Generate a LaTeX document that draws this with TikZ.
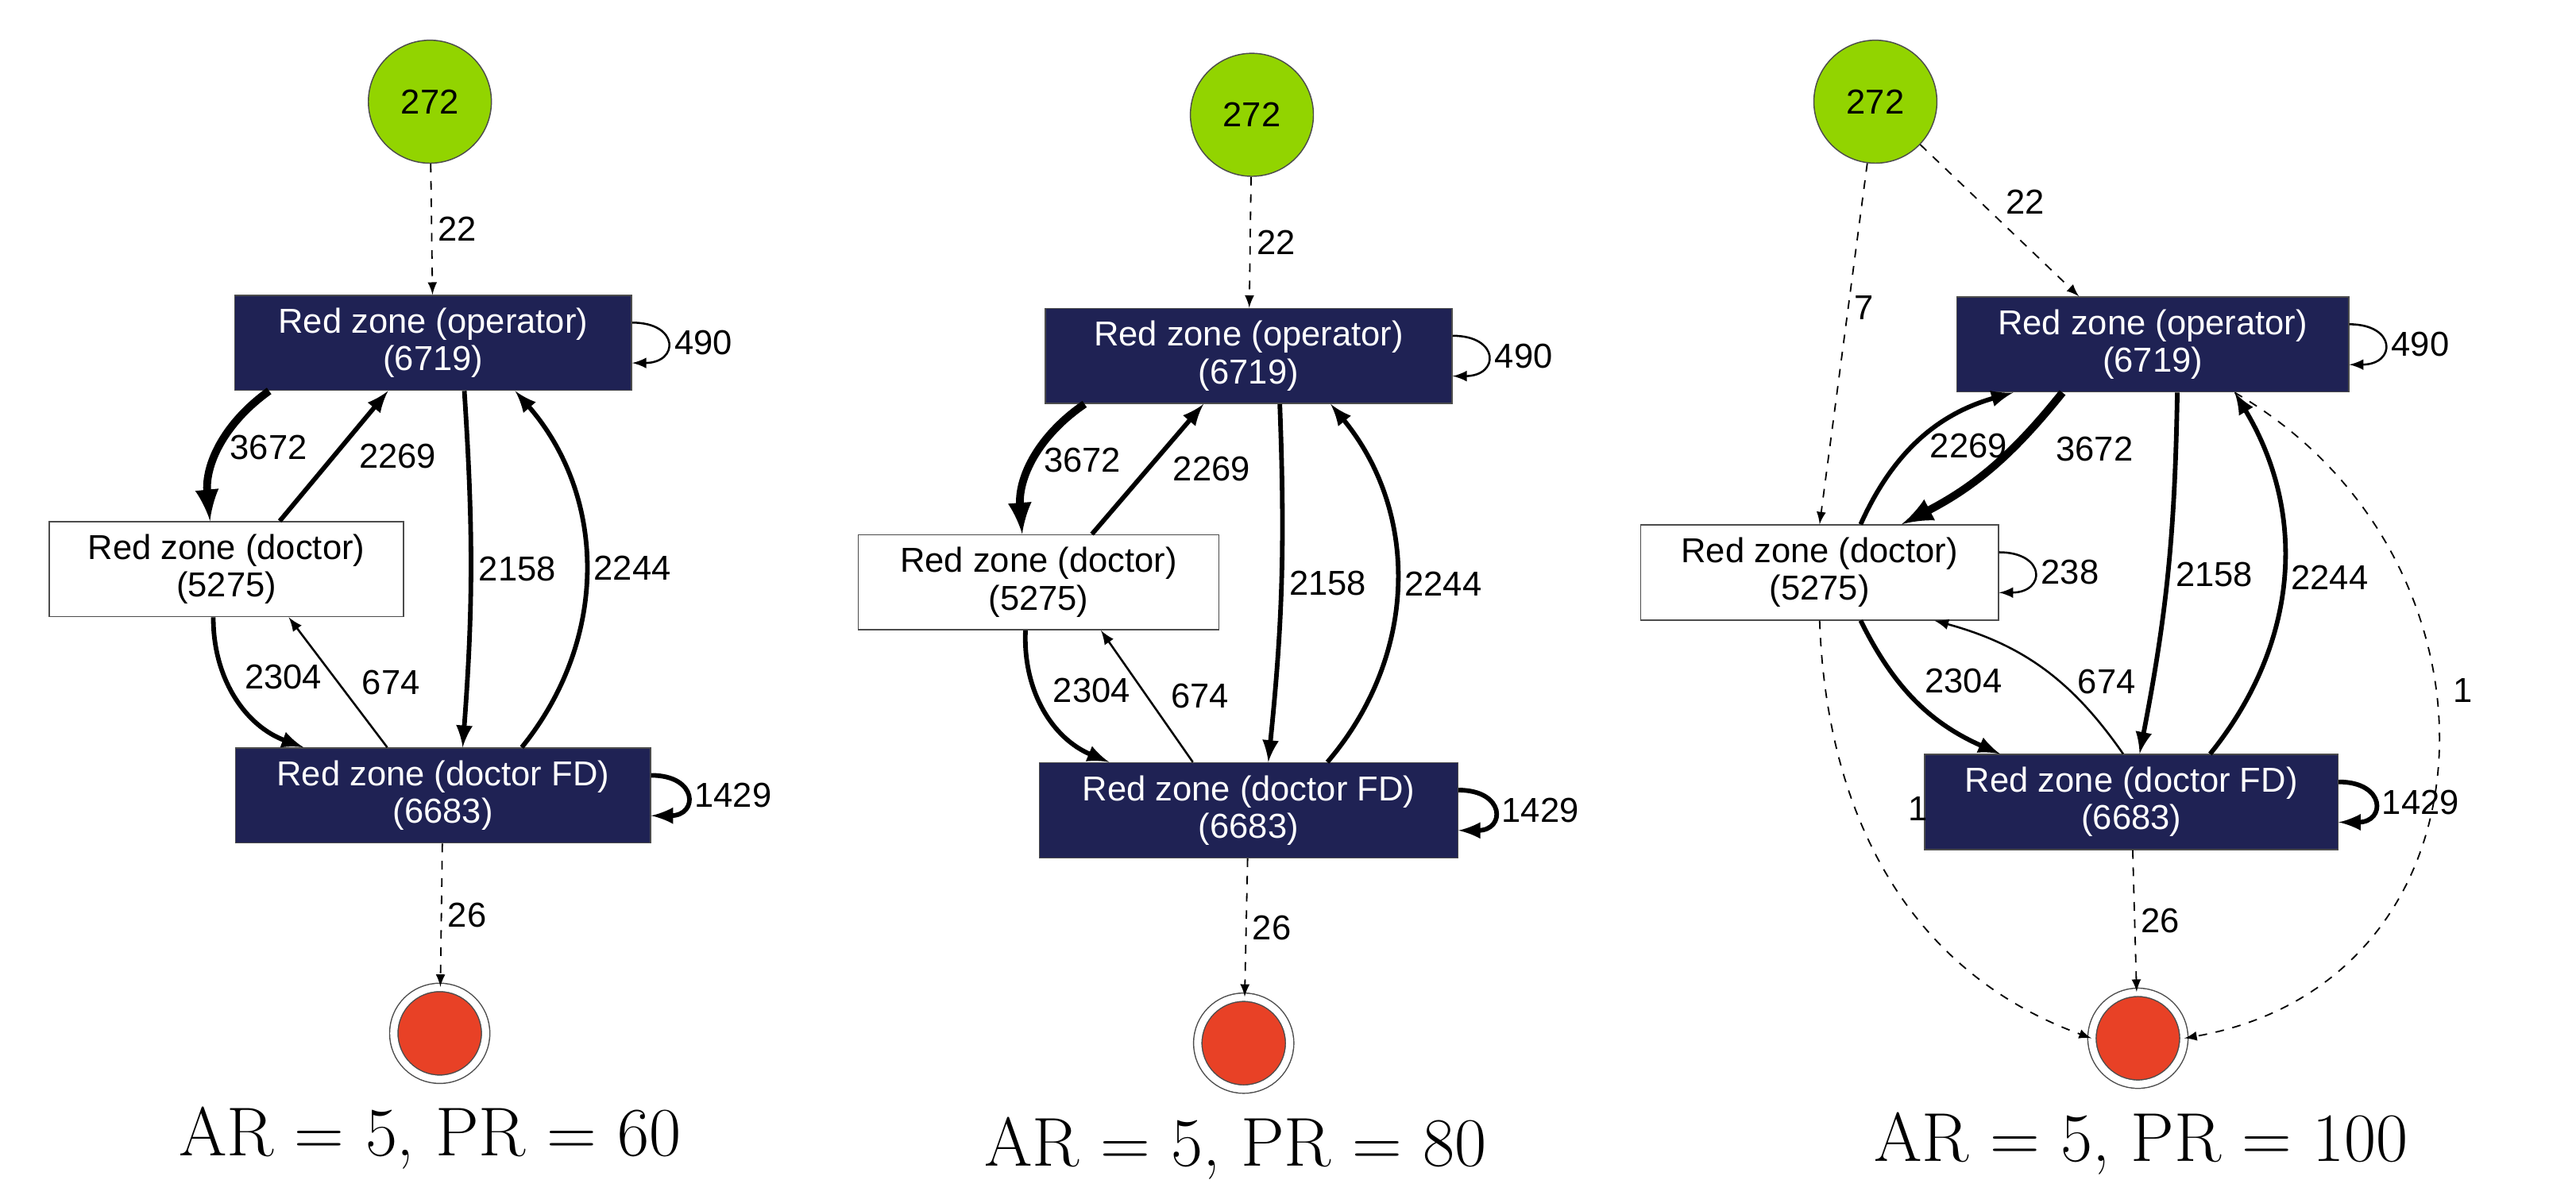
\documentclass[tikz,border=0pt]{standalone}
\usepackage{fontspec}
\newfontfamily\graphfont{Liberation Sans}
\usetikzlibrary{arrows}
\definecolor{zonebg}{RGB}{31,34,84}
\definecolor{startgreen}{RGB}{146,212,0}
\definecolor{endred}{RGB}{232,65,38}
\tikzset{>=latex,
         zone/.style={draw=gray!60!black, fill=zonebg, text=white, font=\graphfont\fontsize{12}{13}\selectfont, align=center, minimum height=1.16cm, inner sep=1pt},
         plain/.style={zone, fill=white, text=black},
         start/.style={draw=black!70, circle, fill=startgreen, minimum size=1.5cm, font=\graphfont\fontsize{12}{13}\selectfont},
         stop/.style={draw=black!70, circle, fill=endred, minimum size=1.12cm, double=white, double distance=2.5pt},
         lbl/.style={font=\graphfont\fontsize{12}{13}\selectfont, inner sep=2pt},
         caption/.style={font=\fontsize{24}{28}\selectfont},
         heavy/.style={line width=2.7pt},
         strong/.style={line width=1.6pt},
         weak/.style={line width=0.7pt},
         flow/.style={dashed, line width=0.5pt}}

\begin{document}
\begin{tikzpicture}[x=0.02cm, y=-0.02cm]
            \useasboundingbox (0,0) rectangle (1570,733);

            % AR = 5, PR = 60
            \node[start] at ( 262,  62) (s1)   {272};
            \node[zone, minimum width=4.84cm] at ( 264, 209) (op1)  {Red zone (operator)\\(6719)};
            \node[plain, minimum width=4.32cm] at ( 138, 347) (doc1) {Red zone (doctor)\\(5275)};
            \node[zone, minimum width=5.06cm] at ( 270, 485) (fd1)  {Red zone (doctor FD)\\(6683)};
            \node[stop] at ( 268, 630) (e1)   {};
            \node[caption] at ( 262, 694) (c1) {AR = 5, PR = 60};

            \draw[flow, ->] (s1) -- node[lbl, right] {22} (op1);
            \draw[weak, ->] ([yshift=7pt]op1.east) to[out=0, in=0, looseness=3] node[lbl, right] {490} ([yshift=-7pt]op1.east);
            \draw[heavy, ->] ([xshift=-2.0cm]op1.south) to[bend right=30] node[lbl, right] {3672} ([xshift=-0.2cm]doc1.north);
            \draw[strong, ->] ([xshift=0.65cm]doc1.north) -- node[lbl, right=6pt] {2269} ([xshift=-0.55cm]op1.south);
            \draw[strong, ->] ([xshift=0.38cm]op1.south) to[bend left=4] node[lbl, right] {2158} ([xshift=0.24cm]fd1.north);
            \draw[strong, ->] ([xshift=0.96cm]fd1.north) to[bend right=40] node[lbl, right] {2244} ([xshift=1.0cm]op1.south);
            \draw[strong, ->] ([xshift=-0.16cm]doc1.south) to[bend right=35] node[lbl, above right] {2304} ([xshift=-1.7cm]fd1.north);
            \draw[weak, ->] ([xshift=-0.68cm]fd1.north) -- node[lbl, right=6pt] {674} ([xshift=0.76cm]doc1.south);
            \draw[strong, ->] ([yshift=7pt]fd1.east) to[out=0, in=0, looseness=3] node[lbl, right] {1429} ([yshift=-7pt]fd1.east);
            \draw[flow, ->] (fd1) -- node[lbl, right] {26} (e1);

            % AR = 5, PR = 80
            \node[start] at ( 763,  70) (s2)   {272};
            \node[zone, minimum width=4.96cm] at ( 761, 217) (op2)  {Red zone (operator)\\(6719)};
            \node[plain, minimum width=4.40cm] at ( 633, 355) (doc2) {Red zone (doctor)\\(5275)};
            \node[zone, minimum width=5.10cm] at ( 761, 494) (fd2)  {Red zone (doctor FD)\\(6683)};
            \node[stop] at ( 758, 636) (e2)   {};
            \node[caption] at ( 753, 700) (c2) {AR = 5, PR = 80};

            \draw[flow, ->] (s2) -- node[lbl, right] {22} (op2);
            \draw[weak, ->] ([yshift=7pt]op2.east) to[out=0, in=0, looseness=3] node[lbl, right] {490} ([yshift=-7pt]op2.east);
            \draw[heavy, ->] ([xshift=-2.0cm]op2.south) to[bend right=30] node[lbl, right] {3672} ([xshift=-0.2cm]doc2.north);
            \draw[strong, ->] ([xshift=0.65cm]doc2.north) -- node[lbl, right=6pt] {2269} ([xshift=-0.55cm]op2.south);
            \draw[strong, ->] ([xshift=0.38cm]op2.south) to[bend left=4] node[lbl, right] {2158} ([xshift=0.24cm]fd2.north);
            \draw[strong, ->] ([xshift=0.96cm]fd2.north) to[bend right=40] node[lbl, right] {2244} ([xshift=1.0cm]op2.south);
            \draw[strong, ->] ([xshift=-0.16cm]doc2.south) to[bend right=35] node[lbl, above right] {2304} ([xshift=-1.7cm]fd2.north);
            \draw[weak, ->] ([xshift=-0.68cm]fd2.north) -- node[lbl, right=6pt] {674} ([xshift=0.76cm]doc2.south);
            \draw[strong, ->] ([yshift=7pt]fd2.east) to[out=0, in=0, looseness=3] node[lbl, right] {1429} ([yshift=-7pt]fd2.east);
            \draw[flow, ->] (fd2) -- node[lbl, right] {26} (e2);

            % AR = 5, PR = 100
            \node[start] at (1143,  62) (s3)   {272};
            \node[zone, minimum width=4.78cm] at (1312, 210) (op3)  {Red zone (operator)\\(6719)};
            \node[plain, minimum width=4.36cm] at (1109, 349) (doc3) {Red zone (doctor)\\(5275)};
            \node[zone, minimum width=5.04cm] at (1299, 489) (fd3)  {Red zone (doctor FD)\\(6683)};
            \node[stop] at (1303, 633) (e3)   {};
            \node[caption] at (1305, 697) (c3) {AR = 5, PR = 100};

            \draw[flow, ->] (s3) -- node[lbl, above right] {22} ([xshift=-0.9cm]op3.north);
            \draw[flow, ->] (s3) -- node[lbl, right, pos=0.4] {7} (doc3.north);
            \draw[weak, ->] ([yshift=7pt]op3.east) to[out=0, in=0, looseness=3] node[lbl, right] {490} ([yshift=-7pt]op3.east);
            \draw[heavy, ->] ([xshift=-1.1cm]op3.south) to[bend left=12] node[lbl, right=12pt, pos=0.35] {3672} ([xshift=1.0cm]doc3.north);
            \draw[strong, ->] ([xshift=0.5cm]doc3.north) to[bend left=25] node[lbl, right=3pt, pos=0.45] {2269} ([xshift=-1.7cm]op3.south);
            \draw[weak, ->] ([yshift=7pt]doc3.east) to[out=0, in=0, looseness=3] node[lbl, right] {238} ([yshift=-7pt]doc3.east);
            \draw[strong, ->] ([xshift=0.3cm]op3.south) to[bend left=5] node[lbl, right] {2158} ([xshift=0.1cm]fd3.north);
            \draw[strong, ->] ([xshift=0.96cm]fd3.north) to[bend right=35] node[lbl, right] {2244} ([xshift=1.0cm]op3.south);
            \draw[strong, ->] ([xshift=0.5cm]doc3.south) to[bend right=20] node[lbl, above right] {2304} ([xshift=-1.6cm]fd3.north);
            \draw[weak, ->] ([xshift=-0.1cm]fd3.north) to[bend right=20] node[lbl, right=4pt, pos=0.4] {674} ([xshift=1.4cm]doc3.south);
            \draw[strong, ->] ([yshift=7pt]fd3.east) to[out=0, in=0, looseness=3] node[lbl, right] {1429} ([yshift=-7pt]fd3.east);
            \draw[flow, ->] (fd3) -- node[lbl, right] {26} (e3);
            \draw[flow, ->] (doc3.south) to[out=-88, in=160] node[lbl, right=16pt, pos=0.35] {1} (e3.west);
            \draw[flow, ->] ([xshift=1.0cm]op3.south) to[out=-30, in=10, looseness=1.3] node[lbl, right=4pt, pos=0.42] {1} (e3.east);
\end{tikzpicture}
\end{document}
